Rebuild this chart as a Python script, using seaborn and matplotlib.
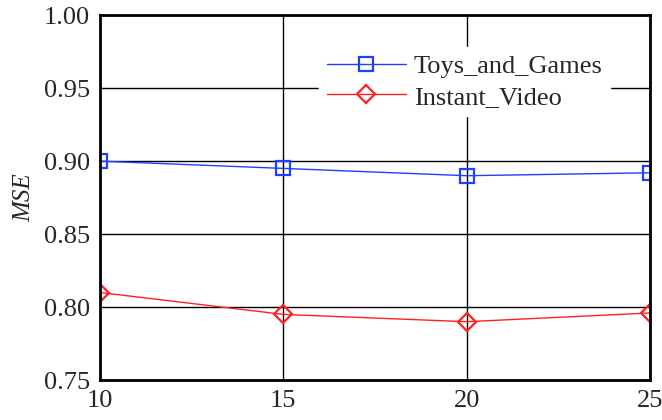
import numpy as np
import pandas as pd
import matplotlib
matplotlib.use('Agg')
import matplotlib.pyplot as plt
import seaborn as sns

x_vals = [10, 15, 20, 25]
toys = [0.900, 0.895, 0.890, 0.892]
video = [0.810, 0.795, 0.790, 0.796]
names = ['Toys_and_Games', 'Instant_Video']

sns.set_style('white')
plt.rcParams['font.family'] = ['Liberation Serif', 'DejaVu Serif']

fig = plt.figure(figsize=(6.62, 4.2), dpi=100)
ax = fig.add_axes([0.151, 0.095, 0.831, 0.869])

series = [(toys, names[0], '#2040ff', 's', 10),
          (video, names[1], '#ff2020', 'D', 9)]
for vals, name, col, mk, ms in series:
    sns.lineplot(x=x_vals, y=vals, color=col, marker=mk, markersize=ms,
                 markerfacecolor='none', markeredgecolor=col,
                 markeredgewidth=1.6, linewidth=1, label=name, ax=ax)

ax.set_xlim(10, 25)
ax.set_ylim(0.75, 1.00)
ax.set_xticks([10, 15, 20, 25])
yt = np.arange(0.75, 1.001, 0.05)
ax.set_yticks(yt)
ax.set_yticklabels(['%.2f' % v for v in yt])
ax.grid(True, color='black', linewidth=1)
ax.set_axisbelow(True)
for s in ax.spines.values():
    s.set_color('black')
    s.set_linewidth(2)
ax.tick_params(axis='both', labelsize=19, direction='in', length=0, pad=7)
ax.set_xlabel('')
ax.set_ylabel('MSE', fontsize=18, style='italic', labelpad=6)

leg = ax.legend(loc='upper right', bbox_to_anchor=(0.952, 0.95), fontsize=19,
                frameon=True, facecolor='white', edgecolor='white',
                framealpha=1, handlelength=3.0, handletextpad=0.3,
                borderpad=0.3, labelspacing=0.27)

fig.savefig('out.png', dpi=100)
